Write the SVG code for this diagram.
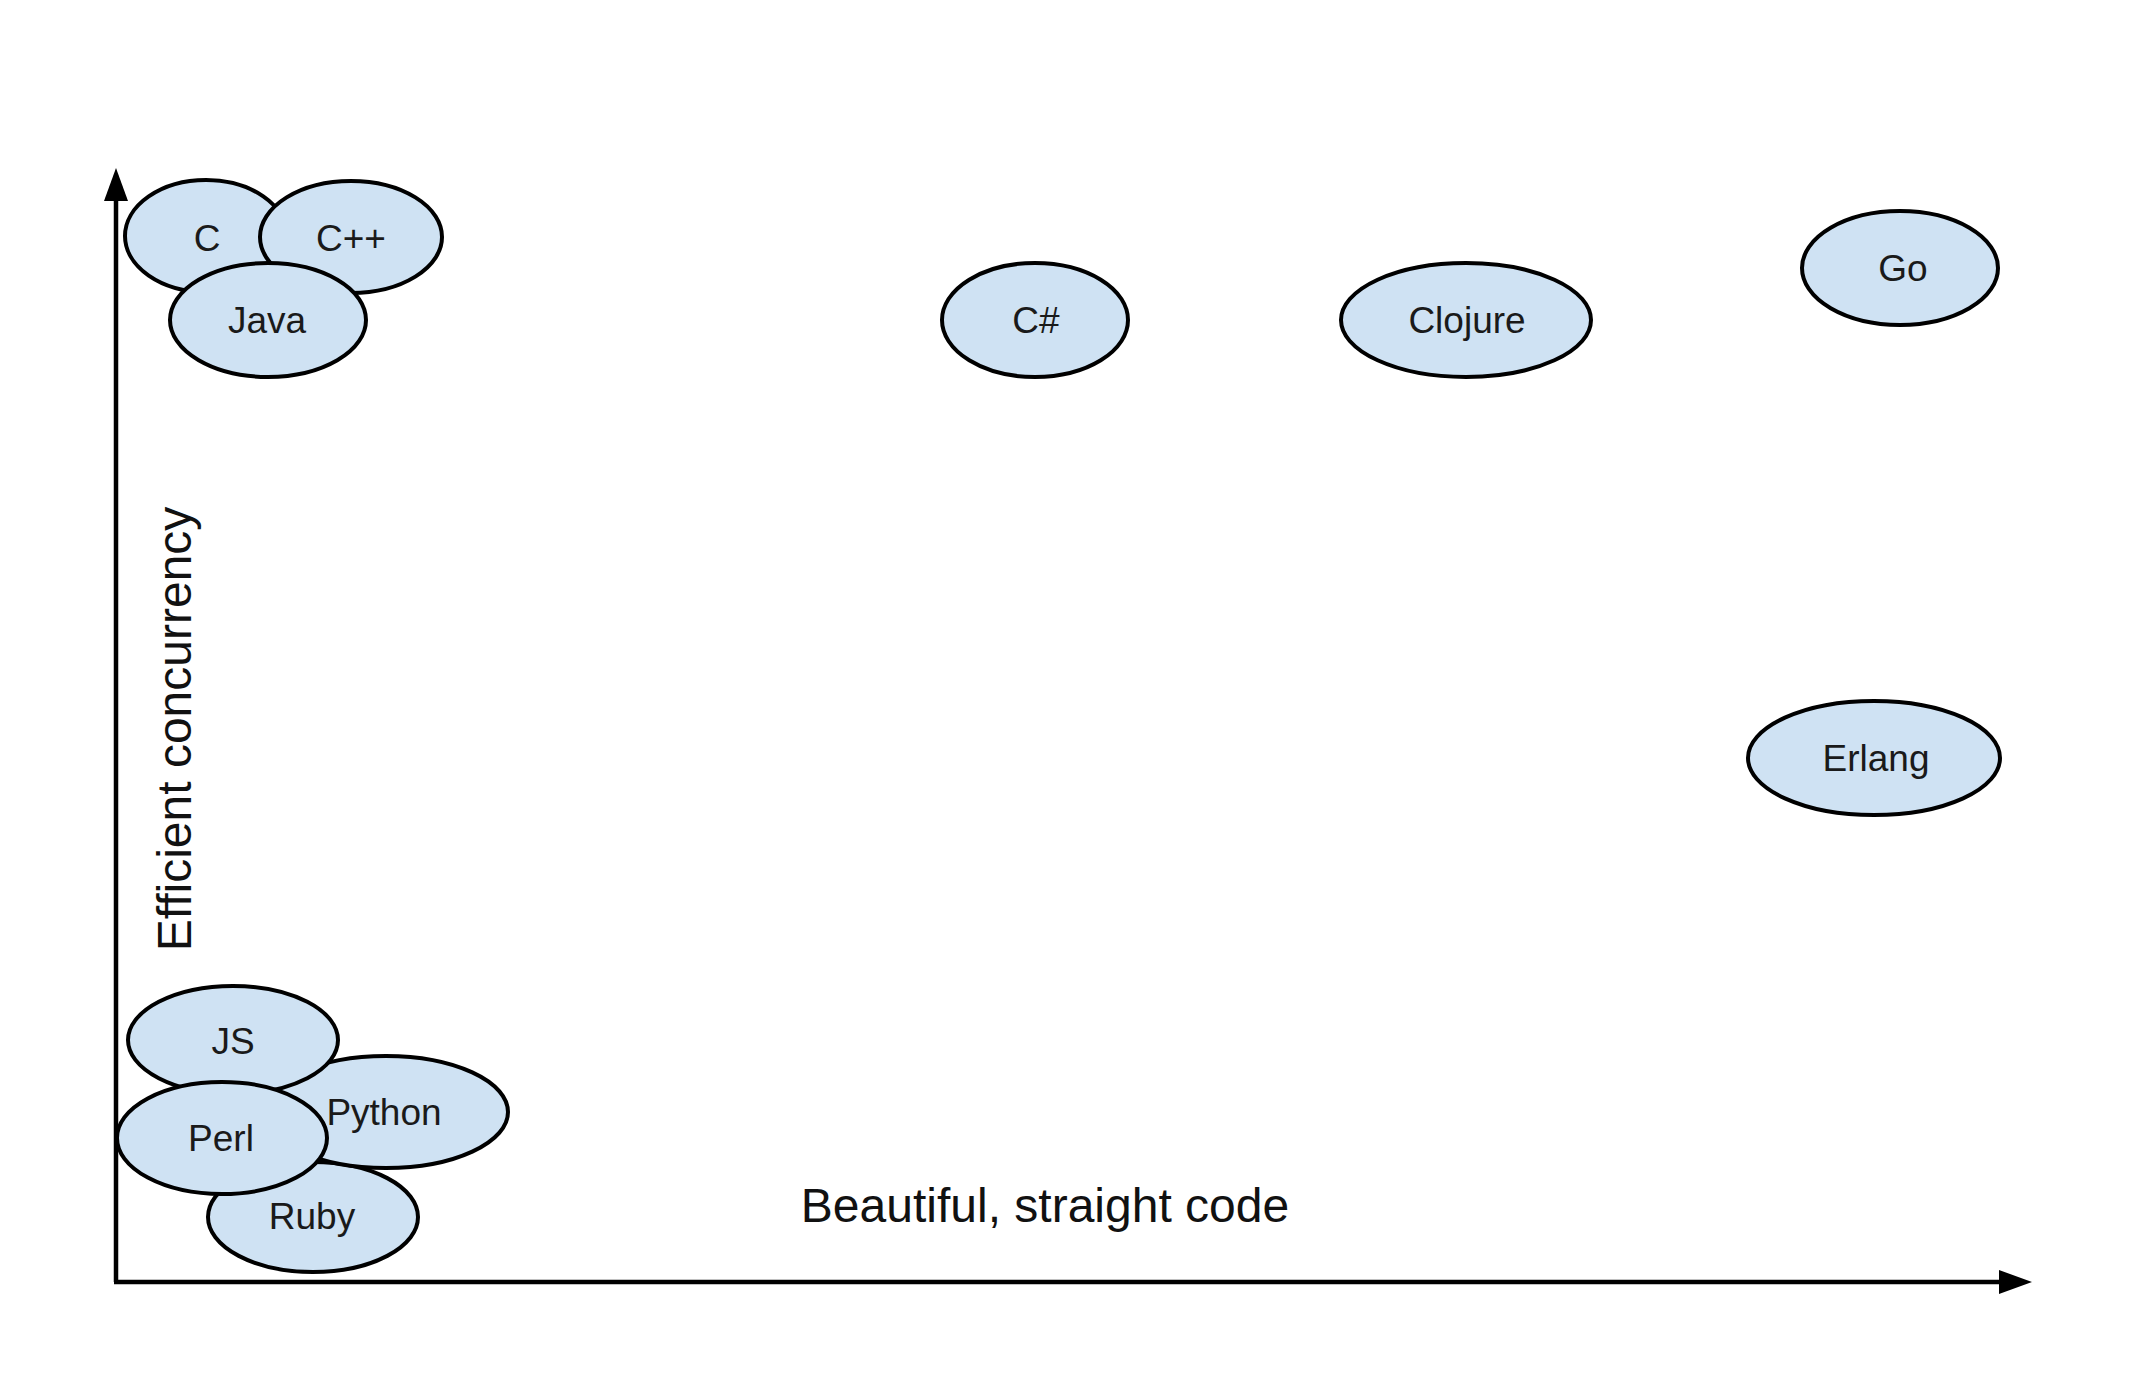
<svg xmlns="http://www.w3.org/2000/svg" width="2132" height="1392" viewBox="0 0 2132 1392">
  <defs>
    <marker id="arrow" markerUnits="userSpaceOnUse" markerWidth="34" markerHeight="26" refX="0" refY="12.5" orient="auto">
      <path d="M0,0.5 L33,12.5 L0,24.5 z" fill="#000"/>
    </marker>
    <style>
      .node ellipse { fill: #cfe2f3; stroke: #000; stroke-width: 4; }
      .node text { font-family: "Liberation Sans", Arial, sans-serif; font-size: 37px; fill: #1a1a1a; text-anchor: middle; }
      .axis { stroke: #000; stroke-width: 4.5; fill: none; }
      .label { font-family: "Liberation Sans", Arial, sans-serif; font-size: 48px; fill: #111; text-anchor: middle; }
    </style>
  </defs>
  <rect width="2132" height="1392" fill="#fff"/>

  <g id="connectors">
    <path class="axis" d="M116,1282 L116,201" marker-end="url(#arrow)"/>
    <path class="axis" d="M114,1282 L1999,1282" marker-end="url(#arrow)"/>
  </g>

  <g id="labels">
    <text class="label" x="1045" y="1222">Beautiful, straight code</text>
    <text class="label" transform="translate(191,729) rotate(-90)" x="0" y="0">Efficient concurrency</text>
  </g>

  <g id="node-c" class="node">
    <ellipse cx="206" cy="236" rx="81" ry="56"/>
    <text x="207" y="251">C</text>
  </g>
  <g id="node-cpp" class="node">
    <ellipse cx="351" cy="237" rx="91" ry="56"/>
    <text x="351" y="251">C++</text>
  </g>
  <g id="node-java" class="node">
    <ellipse cx="268" cy="320" rx="98" ry="57"/>
    <text x="267" y="333">Java</text>
  </g>
  <g id="node-csharp" class="node">
    <ellipse cx="1035" cy="320" rx="93" ry="57"/>
    <text x="1036" y="333">C#</text>
  </g>
  <g id="node-clojure" class="node">
    <ellipse cx="1466" cy="320" rx="125" ry="57"/>
    <text x="1467" y="333">Clojure</text>
  </g>
  <g id="node-go" class="node">
    <ellipse cx="1900" cy="268" rx="98" ry="57"/>
    <text x="1903" y="281">Go</text>
  </g>
  <g id="node-erlang" class="node">
    <ellipse cx="1874" cy="758" rx="126" ry="57"/>
    <text x="1876" y="771">Erlang</text>
  </g>
  <g id="node-ruby" class="node">
    <ellipse cx="313" cy="1217" rx="105" ry="55"/>
    <text x="312" y="1229">Ruby</text>
  </g>
  <g id="node-python" class="node">
    <ellipse cx="386" cy="1112" rx="122" ry="56"/>
    <text x="384" y="1125">Python</text>
  </g>
  <g id="node-js" class="node">
    <ellipse cx="233" cy="1040" rx="105" ry="54"/>
    <text x="233" y="1054">JS</text>
  </g>
  <g id="node-perl" class="node">
    <ellipse cx="222" cy="1138" rx="105" ry="56"/>
    <text x="221" y="1151">Perl</text>
  </g>
</svg>
